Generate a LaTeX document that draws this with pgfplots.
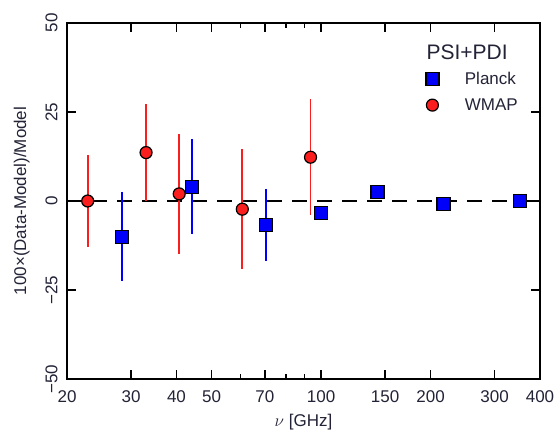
\documentclass[border=0pt]{standalone}
\usepackage{pgfplots}
\pgfplotsset{compat=1.18}
\usepackage{fontspec}
\setmainfont{Liberation Sans}
\definecolor{pred}{RGB}{250,30,30}
\definecolor{pblue}{RGB}{0,0,250}
\definecolor{txt}{RGB}{35,35,55}
\begin{document}
\begin{tikzpicture}
\begin{axis}[
  scale only axis, width=473pt, height=356pt,
  xmode=log, xmin=20, xmax=400, ymin=-50, ymax=50,
  axis line style={draw=black, line width=2pt},
  every tick/.append style={draw=black, line width=1.5pt},
  tick align=inside,
  xtick pos=both, ytick pos=both,
  major tick length=9pt, minor tick length=5pt,
  xtick={20,30,40,50,70,100,150,200,300,400},
  xticklabels={20,30,40,50,70,100,150,200,300,400},
  minor xtick={60,80,90},
  ytick={-50,-25,0,25,50},
  yticklabels={−50,−25,0,25,50},
  yticklabel style={rotate=90},
  yticklabel shift=6pt,
  xticklabel shift=8pt,
  tick label style={font=\fontsize{17}{20}\selectfont, text=txt},
  xlabel={$\nu$ [GHz]},
  ylabel={100×(Data-Model)/Model},
  label style={font=\fontsize{17}{20}\selectfont, text=txt},
  xlabel style={yshift=-5pt},
  ylabel style={yshift=9pt},
  legend style={draw=none, fill=none, at={(0.752,0.875)}, anchor=north west,
    font=\fontsize{17}{20}\selectfont, text=txt, row sep=9pt},
  legend cell align=left,
]
\coordinate (bl) at (rel axis cs:0,0);
\coordinate (tr) at (rel axis cs:1,1);
\addplot[black, line width=1.5pt, dash pattern=on 15pt off 10pt, forget plot]
  coordinates {(20,0) (400,0)};
\addplot[only marks, mark=square*, mark size=6.5pt,
  mark options={fill=pblue, draw=black, line width=1.2pt},
  error bars/.cd, y dir=both, y explicit, error mark=none,
  error bar style={pblue, line width=1.8pt}]
  coordinates {
  (28.4,-10.1) +- (0,12.5)
  (44.1,4.0) +- (0,13.4)
  (70.4,-6.7) +- (0,10.2)
  (100,-3.3) +- (0,1.6)
  (143,2.6) +- (0,0.8)
  (217,-0.8) +- (0,0.5)
  (353,-0.1) +- (0,0.5)
  };
\addlegendentry{\hspace{24pt}Planck}
\addplot[only marks, mark=*, mark size=6pt,
  mark options={fill=pred, draw=black, line width=1.2pt},
  error bars/.cd, y dir=both, y explicit, error mark=none,
  error bar style={pred, line width=1.8pt}]
  coordinates {
  (22.8,0) +- (0,13)
  (33.0,13.6) +- (0,13.6)
  (40.7,2.0) +- (0,16.8)
  (60.7,-2.3) +- (0,16.9)
  (93.5,12.3) +- (0,16.3)
  };
\addlegendentry{\hspace{24pt}WMAP}
\node[font=\fontsize{21}{24}\selectfont, text=txt] at (rel axis cs:0.846,0.918) {PSI+PDI};
\end{axis}
\pgfresetboundingbox
\path[use as bounding box] ([shift={(-67pt,-50pt)}]bl) rectangle ([shift={(17pt,23pt)}]tr);
\end{tikzpicture}
\end{document}
